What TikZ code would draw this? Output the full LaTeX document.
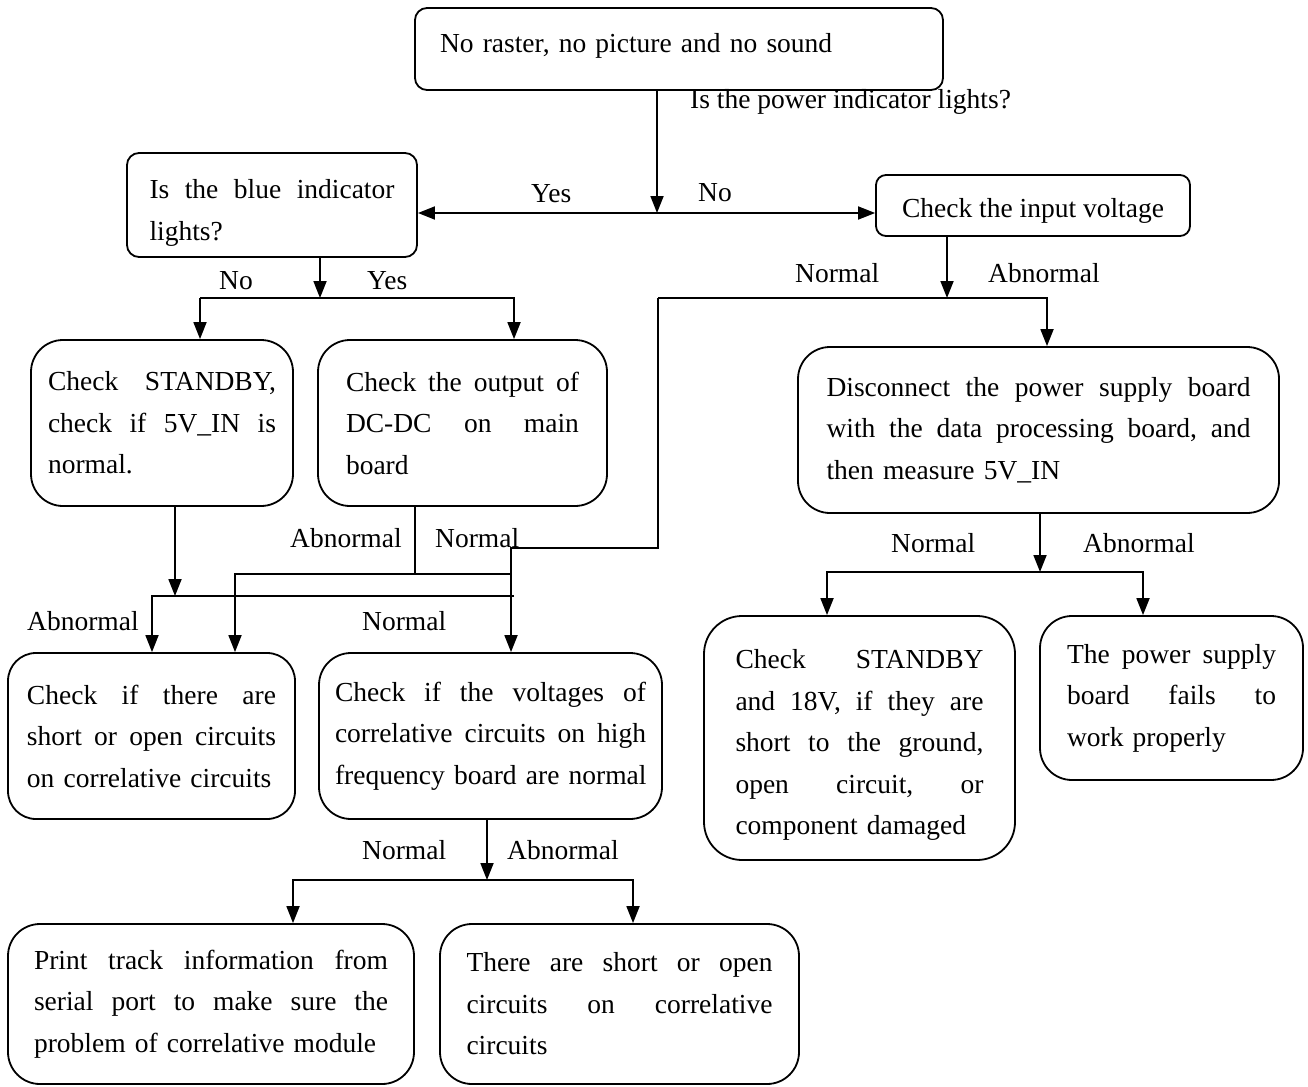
\documentclass[tikz,border=0pt]{standalone}
\usepackage{fontspec}
\setmainfont{Liberation Serif}
\usetikzlibrary{arrows.meta}
\newcommand\fsz{\fontsize{27.5pt}{41.5pt}\selectfont}
% one fully justified line (gaps marked with \hfill), and a closing line kept unbroken
\newcommand\jline[1]{\leavevmode\hbox to\hsize{#1}}
\newcommand\eline[1]{\mbox{#1}}
\begin{document}
\begin{tikzpicture}[x=1pt,y=-1pt,
  box/.style={draw, line width=1.8pt, rounded corners=#1, inner sep=0pt,
    align=left, font=\fsz},
  box/.default=32pt,
  lbl/.style={inner sep=0pt, font=\fsz},
  wire/.style={line width=1.8pt},
  arr/.style={line width=1.8pt, -{Triangle[length=17pt,width=13pt]}}]
\useasboundingbox (0,0) rectangle (1308,1086);

% ---- boxes ----
\node[box=12pt, minimum width=528pt, minimum height=82pt, text width=478pt, text depth=13pt]
  (b1) at (679,49) {\eline{No raster, no picture and no sound}};
\node[box=12pt, minimum width=290pt, minimum height=104pt, text width=245pt, text height=35pt]
  (b2) at (272,205) {\jline{Is \hfill the \hfill blue \hfill indicator}\\\eline{lights?}};
\node[box=10pt, minimum width=314pt, minimum height=61pt, align=center, text height=30pt, text depth=6pt]
  (b3) at (1033,205.5) {Check the input voltage};
\node[box, minimum width=262pt, minimum height=166pt, text width=228pt]
  (b4) at (162,423) {\jline{Check \hfill STANDBY,}\\\jline{check \hfill if \hfill 5V\_IN \hfill is}\\\eline{normal.}};
\node[box, minimum width=289pt, minimum height=166pt, text width=233pt]
  (b5) at (462.5,423) {\jline{Check \hfill the \hfill output \hfill of}\\\jline{DC-DC \hfill on \hfill main}\\\eline{board}};
\node[box, minimum width=481pt, minimum height=166pt, text width=424pt]
  (b6) at (1038.5,430) {\jline{Disconnect \hfill the \hfill power \hfill supply \hfill board}\\\jline{with \hfill the \hfill data \hfill processing \hfill board, \hfill and}\\\eline{then measure 5V\_IN}};
\node[box=28pt, minimum width=287pt, minimum height=166pt, text width=249pt]
  (b7) at (151.5,736) {\jline{Check \hfill if \hfill there \hfill are}\\\jline{short \hfill or \hfill open \hfill circuits}\\\eline{on correlative circuits}};
\node[box, minimum width=343pt, minimum height=166pt, text width=311pt]
  (b8) at (490.5,736) {\jline{Check \hfill if \hfill the \hfill voltages \hfill of}\\\jline{correlative \hfill circuits \hfill on \hfill high}\\\eline{frequency board are normal}};
\node[box=38pt, minimum width=311pt, minimum height=244pt, text width=248pt, text height=33pt]
  (b9) at (859.5,738) {\jline{Check \hfill STANDBY}\\\jline{and \hfill 18V, \hfill if \hfill they \hfill are}\\\jline{short \hfill to \hfill the \hfill ground,}\\\jline{open \hfill circuit, \hfill or}\\\eline{component damaged}};
\node[box, minimum width=263pt, minimum height=164pt, text width=209pt]
  (b10) at (1171.5,698) {\jline{The \hfill power \hfill supply}\\\jline{board \hfill fails \hfill to}\\\eline{work properly}};
\node[box, minimum width=406pt, minimum height=160pt, text width=354pt]
  (b11) at (211,1004) {\jline{Print \hfill track \hfill information \hfill from}\\\jline{serial \hfill port \hfill to \hfill make \hfill sure \hfill the}\\\eline{problem of correlative module}};
\node[box, minimum width=359pt, minimum height=160pt, text width=306pt]
  (b12) at (619.5,1004) {\jline{There \hfill are \hfill short \hfill or \hfill open}\\\jline{circuits \hfill on \hfill correlative}\\\eline{circuits}};

% ---- junction points ----
\coordinate (j1) at (657,213);
\coordinate (j2) at (320,298);
\coordinate (j2l) at (200,298);
\coordinate (j2r) at (514,298);
\coordinate (j3) at (947,298);
\coordinate (j3l) at (658,298);
\coordinate (j3r) at (1047,298);
\coordinate (j3c) at (658,548);
\coordinate (j3d) at (511,548);
\coordinate (j4) at (175,596);
\coordinate (j4l) at (152,596);
\coordinate (j4r) at (514,596);
\coordinate (j5) at (415,574);
\coordinate (j5l) at (235,574);
\coordinate (j5r) at (511,574);
\coordinate (j8) at (487,880);
\coordinate (j8l) at (293,880);
\coordinate (j8r) at (633,880);
\coordinate (j6) at (1040,572);
\coordinate (j6l) at (827,572);
\coordinate (j6r) at (1143,572);

% ---- connectors ----
\draw[arr] (b1.south -| j1) -- (j1);
\draw[arr] (j1) -- (j1 -| b2.east);
\draw[arr] (j1) -- (j1 -| b3.west);

\draw[arr] (b2.south -| j2) -- (j2);
\draw[arr] (j2l) -- (b4.north -| j2l);
\draw[arr] (j2l) -- (j2r) -- (b5.north -| j2r);

\draw[arr] (b3.south -| j3) -- (j3);
\draw[arr] (j3l) -- (j3r) -- (b6.north -| j3r);
\draw[arr] (j3l) -- (j3c) -- (j3d) -- (b8.north -| j3d);

\draw[arr] (b4.south -| j4) -- (j4);
\draw[arr] (j4r) -- (j4l) -- (b7.north -| j4l);

\draw[wire] (b5.south -| j5) -- (j5);
\draw[arr] (j5r) -- (j5l) -- (b7.north -| j5l);

\draw[arr] (b8.south -| j8) -- (j8);
\draw[arr] (j8) -- (j8l) -- (b11.north -| j8l);
\draw[arr] (j8) -- (j8r) -- (b12.north -| j8r);

\draw[arr] (b6.south -| j6) -- (j6);
\draw[arr] (j6) -- (j6l) -- (b9.north -| j6l);
\draw[arr] (j6) -- (j6r) -- (b10.north -| j6r);

% ---- branch labels ----
\node[lbl, anchor=base west] (t1) at (690,109) {Is the power indicator lights?};
\node[lbl, anchor=base west] (t2) at (531,202) {Yes};
\node[lbl, anchor=base west] (t3) at (698,201) {No};
\node[lbl, anchor=base west] (t4) at (219,289) {No};
\node[lbl, anchor=base west] (t5) at (367,289) {Yes};
\node[lbl, anchor=base west] (t6) at (795,282) {Normal};
\node[lbl, anchor=base west] (t7) at (988,282) {Abnormal};
\node[lbl, anchor=base west] (t8) at (290,547) {Abnormal};
\node[lbl, anchor=base west] (t9) at (435,547) {Normal};
\node[lbl, anchor=base west] (t10) at (27,630) {Abnormal};
\node[lbl, anchor=base west] (t11) at (362,630) {Normal};
\node[lbl, anchor=base west] (t12) at (891,552) {Normal};
\node[lbl, anchor=base west] (t13) at (1083,552) {Abnormal};
\node[lbl, anchor=base west] (t14) at (362,859) {Normal};
\node[lbl, anchor=base west] (t15) at (507,859) {Abnormal};
\end{tikzpicture}
\end{document}
